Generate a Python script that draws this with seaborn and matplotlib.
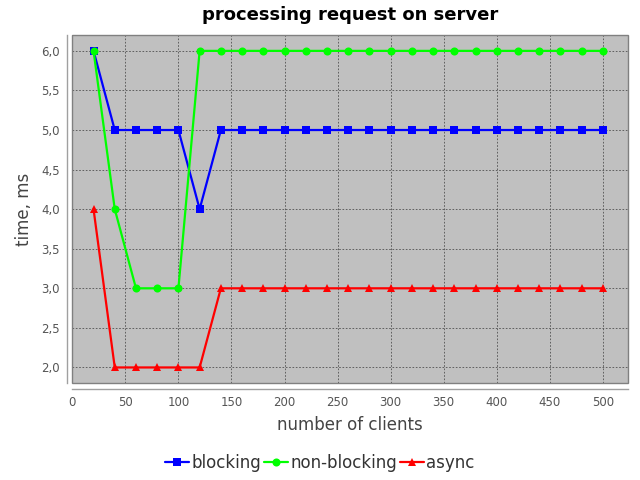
import pandas as pd
import matplotlib
matplotlib.use("Agg")
import matplotlib.pyplot as plt
import seaborn as sns
from matplotlib.ticker import FuncFormatter, MultipleLocator
from matplotlib.patches import Rectangle

# data
clients = [20, 40, 60, 80, 100, 120, 140, 160, 180, 200, 220, 240, 260,
           280, 300, 320, 340, 360, 380, 400, 420, 440, 460, 480, 500]
blocking = [6, 5, 5, 5, 5, 4, 5, 5, 5, 5, 5, 5, 5,
            5, 5, 5, 5, 5, 5, 5, 5, 5, 5, 5, 5]
non_blocking = [6, 4, 3, 3, 3, 6, 6, 6, 6, 6, 6, 6, 6,
                6, 6, 6, 6, 6, 6, 6, 6, 6, 6, 6, 6]
async_times = [4, 2, 2, 2, 2, 2, 3, 3, 3, 3, 3, 3, 3,
               3, 3, 3, 3, 3, 3, 3, 3, 3, 3, 3, 3]
series_names = ["blocking", "non-blocking", "async"]

df = pd.concat([
    pd.DataFrame({"clients": clients, "time": vals, "mode": name})
    for name, vals in zip(series_names, [blocking, non_blocking, async_times])
])

sns.set_style("white")
plt.rcParams["font.family"] = ["DejaVu Sans"]

fig = plt.figure(figsize=(6.4, 4.8), dpi=100)
ax = fig.add_axes([0.113, 0.2015, 0.8687, 0.7255])
ax.set_facecolor("#c0c0c0")

sns.lineplot(data=df, x="clients", y="time", hue="mode", style="mode",
             palette=["#0000ff", "#00ff00", "#ff0000"],
             markers=["s", "o", "^"], dashes=False, linewidth=1.6,
             markersize=5.8, markeredgewidth=0, ax=ax, zorder=3)

ax.set_xlim(0, 524)
ax.set_ylim(1.8, 6.2)
ax.xaxis.set_major_locator(MultipleLocator(50))
ax.yaxis.set_major_locator(MultipleLocator(0.5))
ax.yaxis.set_major_formatter(FuncFormatter(lambda v, p: f"{v:.1f}".replace(".", ",")))

ax.grid(True, color="#505050", linestyle=(0, (2, 2)), linewidth=0.6)
ax.set_axisbelow(True)

# plot border + offset axis lines like the original
for s in ["top", "right"]:
    ax.spines[s].set_visible(False)
for s in ["left", "bottom"]:
    ax.spines[s].set_position(("outward", 4))
    ax.spines[s].set_color("#a0a0a0")
    ax.spines[s].set_linewidth(1.0)
ax.add_patch(Rectangle((0, 0), 1, 1, transform=ax.transAxes, fill=False,
                       edgecolor="#808080", linewidth=1.0, zorder=5, clip_on=False))

ax.tick_params(axis="both", colors="#a0a0a0", labelcolor="#555555",
               labelsize=8.5, length=3, width=0.8, direction="out", pad=2)

ax.set_title("processing request on server", fontsize=13, fontweight="bold",
             pad=11, color="black")
ax.set_xlabel("number of clients", fontsize=12, color="#444444", labelpad=5)
ax.set_ylabel("time, ms", fontsize=12, color="#444444", labelpad=6)

handles, labels = ax.get_legend_handles_labels()
ax.get_legend().remove()
fig.legend(handles, labels, loc="center", bbox_to_anchor=(0.5, 0.035),
           ncol=3, frameon=False, fontsize=12, handlelength=1.4,
           handletextpad=0.15, columnspacing=0.2, labelcolor="#333333")

fig.savefig("out.png", dpi=100)
